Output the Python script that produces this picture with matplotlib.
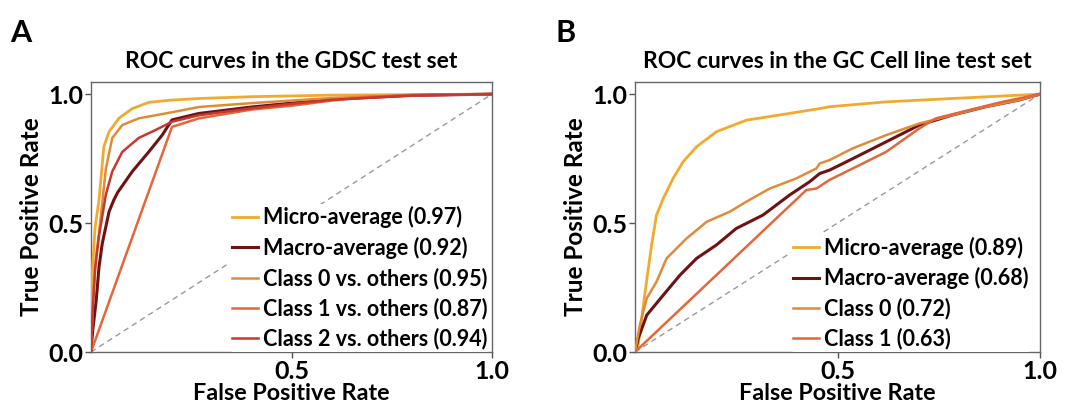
import matplotlib
matplotlib.use("Agg")
import matplotlib.pyplot as plt

plt.rcParams['font.family'] = ['Lato', 'DejaVu Sans']

# ---------- Panel A data (GDSC test set) ----------
a_micro_fpr = [0.0, 0.003, 0.01, 0.02, 0.032, 0.045, 0.07, 0.103, 0.144, 0.202, 0.269, 0.4, 0.5, 0.6, 0.8, 1.0]
a_micro_tpr = [0.0, 0.30, 0.48, 0.59, 0.796, 0.854, 0.907, 0.944, 0.968, 0.977, 0.983, 0.99, 0.993, 0.996, 0.998, 1.0]

a_macro_fpr = [0.0, 0.004, 0.013, 0.02, 0.028, 0.045, 0.057, 0.067, 0.103, 0.144, 0.177, 0.202, 0.269, 0.4, 0.5, 0.6, 0.8, 1.0]
a_macro_tpr = [0.0, 0.08, 0.20, 0.33, 0.42, 0.544, 0.59, 0.62, 0.70, 0.776, 0.84, 0.90, 0.925, 0.95, 0.965, 0.98, 0.995, 1.0]

a_c0_fpr = [0.0, 0.005, 0.012, 0.024, 0.037, 0.053, 0.078, 0.119, 0.186, 0.269, 0.4, 0.5, 0.6, 0.8, 1.0]
a_c0_tpr = [0.0, 0.20, 0.36, 0.518, 0.71, 0.83, 0.88, 0.906, 0.925, 0.95, 0.965, 0.975, 0.985, 0.997, 1.0]

a_c1_fpr = [0.0, 0.202, 0.269, 0.4, 0.5, 0.6, 0.7, 0.8, 1.0]
a_c1_tpr = [0.0, 0.873, 0.906, 0.94, 0.955, 0.975, 0.99, 0.995, 1.0]

a_c2_fpr = [0.0, 0.004, 0.01, 0.02, 0.037, 0.053, 0.078, 0.119, 0.16, 0.202, 0.269, 0.4, 0.5, 0.6, 0.8, 1.0]
a_c2_tpr = [0.0, 0.15, 0.32, 0.45, 0.61, 0.70, 0.776, 0.83, 0.86, 0.893, 0.918, 0.945, 0.962, 0.978, 0.995, 1.0]

a_labels = ["Micro-average (0.97)", "Macro-average (0.92)", "Class 0 vs. others (0.95)",
            "Class 1 vs. others (0.87)", "Class 2 vs. others (0.94)"]

# ---------- Panel B data (GC cell line test set) ----------
b_micro_fpr = [0.0, 0.008, 0.025, 0.041, 0.053, 0.07, 0.094, 0.119, 0.152, 0.201, 0.275, 0.357, 0.456, 0.48, 0.62, 0.784, 1.0]
b_micro_tpr = [0.0, 0.027, 0.234, 0.415, 0.531, 0.596, 0.673, 0.738, 0.796, 0.854, 0.899, 0.919, 0.944, 0.951, 0.97, 0.983, 1.0]

b_macro_fpr = [0.0, 0.008, 0.029, 0.07, 0.111, 0.152, 0.201, 0.25, 0.316, 0.382, 0.431, 0.456, 0.48, 0.538, 0.62, 0.702, 0.784, 0.866, 0.948, 1.0]
b_macro_tpr = [0.0, 0.053, 0.143, 0.221, 0.298, 0.363, 0.415, 0.479, 0.531, 0.609, 0.66, 0.692, 0.705, 0.75, 0.815, 0.88, 0.919, 0.951, 0.977, 1.0]

b_c0_fpr = [0.0, 0.012, 0.029, 0.053, 0.078, 0.127, 0.177, 0.234, 0.275, 0.333, 0.398, 0.448, 0.456, 0.48, 0.538, 0.62, 0.702, 0.784, 0.866, 0.948, 1.0]
b_c0_tpr = [0.0, 0.105, 0.208, 0.272, 0.363, 0.44, 0.505, 0.544, 0.583, 0.634, 0.673, 0.712, 0.731, 0.744, 0.79, 0.841, 0.886, 0.919, 0.951, 0.977, 1.0]

b_c1_fpr = [0.0, 0.423, 0.448, 0.48, 0.538, 0.62, 0.702, 0.743, 0.825, 0.907, 1.0]
b_c1_tpr = [0.0, 0.628, 0.634, 0.667, 0.712, 0.776, 0.867, 0.906, 0.938, 0.97, 1.0]

b_labels = ["Micro-average (0.89)", "Macro-average (0.68)", "Class 0 (0.72)", "Class 1 (0.63)"]

# colours
c_micro = "#F2AA2E"
c_macro = "#6E1212"
c_c0 = "#E08B3A"
c_c1 = "#E2673A"
c_c2 = "#C8382E"

fig = plt.figure(figsize=(10.75, 4.03), dpi=100)
W, H = 1075, 403
axA = fig.add_axes([91 / W, 1 - 352 / H, 401 / W, 270 / H])
axB = fig.add_axes([635 / W, 1 - 352 / H, 405 / W, 270 / H])


def style(ax, title):
    ax.plot([0, 1], [0, 1], linestyle=(0, (4, 3)), color="#999999", lw=1.0, zorder=1)
    ax.set_xlim(0, 1)
    ax.set_ylim(0, 1.047)
    ax.set_xticks([0.5, 1.0])
    ax.set_yticks([0.0, 0.5, 1.0])
    ax.set_xticklabels(["0.5", "1.0"])
    ax.set_yticklabels(["0.0", "0.5", "1.0"])
    for lab in ax.get_xticklabels() + ax.get_yticklabels():
        lab.set_fontweight("bold")
        lab.set_fontsize(18)
    ax.tick_params(direction="out", length=4, width=1, colors="#555555", labelcolor="black", pad=1.5)
    for s in ax.spines.values():
        s.set_color("#666666")
        s.set_linewidth(1.0)
    ax.set_xlabel("False Positive Rate", fontsize=16.8, fontweight="bold", labelpad=0)
    ax.set_ylabel("True Positive Rate", fontsize=17.5, fontweight="bold", labelpad=4)
    ax.set_title(title, fontsize=16.5, fontweight="bold", pad=10)


def legend(ax, x, y):
    leg = ax.legend(loc="lower right", bbox_to_anchor=(x, y), fontsize=15.5, frameon=True,
                    facecolor="white", edgecolor="none", framealpha=1, handlelength=1.2,
                    handletextpad=0.25, labelspacing=0.4, borderpad=0.1, borderaxespad=0.0)
    for t in leg.get_texts():
        t.set_fontweight("bold")
    return leg


# Panel A
axA.plot(a_micro_fpr, a_micro_tpr, color=c_micro, lw=2.0, label=a_labels[0], zorder=3)
axA.plot(a_macro_fpr, a_macro_tpr, color=c_macro, lw=2.2, label=a_labels[1], zorder=3)
axA.plot(a_c0_fpr, a_c0_tpr, color=c_c0, lw=1.8, label=a_labels[2], zorder=3)
axA.plot(a_c1_fpr, a_c1_tpr, color=c_c1, lw=1.8, label=a_labels[3], zorder=3)
axA.plot(a_c2_fpr, a_c2_tpr, color=c_c2, lw=1.8, label=a_labels[4], zorder=3)
style(axA, "ROC curves in the GDSC test set")
legend(axA, 0.995, 0.0)

# Panel B
axB.plot(b_micro_fpr, b_micro_tpr, color=c_micro, lw=2.0, label=b_labels[0], zorder=3)
axB.plot(b_macro_fpr, b_macro_tpr, color=c_macro, lw=2.2, label=b_labels[1], zorder=3)
axB.plot(b_c0_fpr, b_c0_tpr, color=c_c0, lw=1.8, label=b_labels[2], zorder=3)
axB.plot(b_c1_fpr, b_c1_tpr, color=c_c1, lw=1.8, label=b_labels[3], zorder=3)
style(axB, "ROC curves in the GC Cell line test set")
legend(axB, 0.978, 0.0)

fig.text(10 / W, 1 - 42 / H, "A", fontsize=22, fontweight="bold")
fig.text(556 / W, 1 - 42 / H, "B", fontsize=22, fontweight="bold")

fig.savefig("out.png", dpi=100)
